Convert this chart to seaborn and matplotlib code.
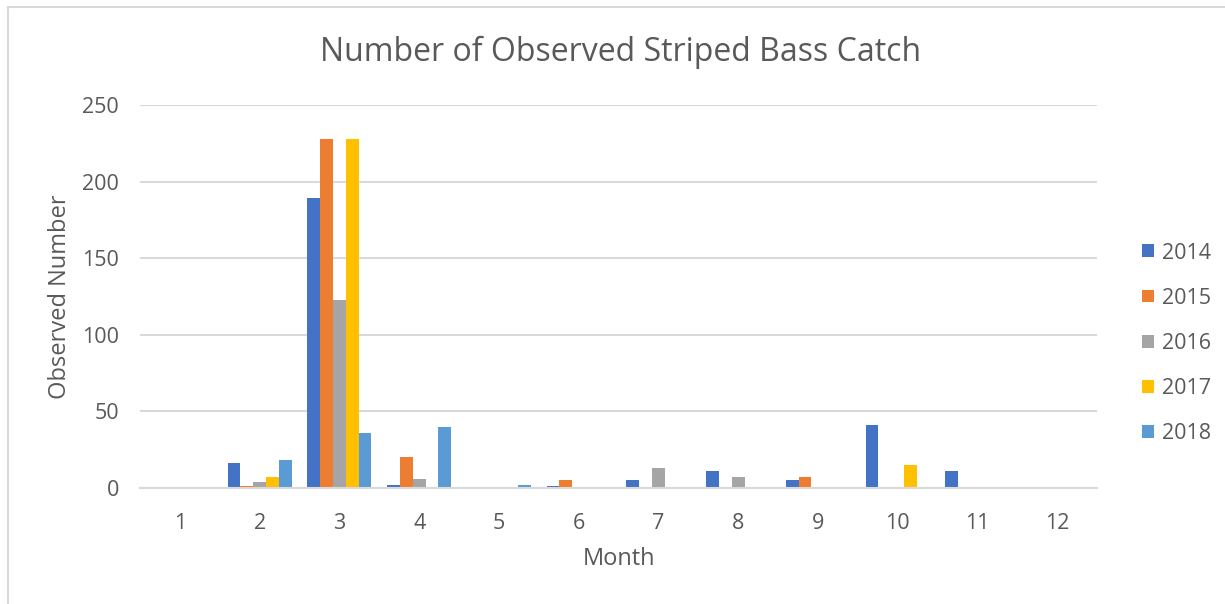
"""
Observed striped bass catch per month, 2014-2018 (Excel-style clustered bars).
"""

import pandas as pd
import matplotlib.pyplot as plt
import seaborn as sns
from matplotlib.lines import Line2D
from matplotlib.patches import Patch

# ------------------------------------------------------------------ #
# Data
# ------------------------------------------------------------------ #
months = ["1", "2", "3", "4", "5", "6", "7", "8", "9", "10", "11", "12"]
years = ["2014", "2015", "2016", "2017", "2018"]

catch_2014 = [0, 16, 189, 2, 0, 1, 5, 11, 5, 41, 11, 0]
catch_2015 = [0, 1, 228, 20, 0, 5, 0, 0, 7, 0, 0, 0]
catch_2016 = [0, 4, 123, 6, 0, 0, 13, 7, 0, 0, 0, 0]
catch_2017 = [0, 7, 228, 0, 0, 0, 0, 0, 0, 15, 0, 0]
catch_2018 = [0, 18, 36, 40, 2, 0, 0, 0, 0, 0, 0, 0]

colors = ["#4472C4", "#ED7D31", "#A5A5A5", "#FFC000", "#5B9BD5"]
text_color = "#595959"
grid_color = "#D9D9D9"

series = [catch_2014, catch_2015, catch_2016, catch_2017, catch_2018]
df = pd.DataFrame(
    [
        {"month": m, "year": y, "count": v}
        for y, vals in zip(years, series)
        for m, v in zip(months, vals)
    ]
)

# ------------------------------------------------------------------ #
# Figure
# ------------------------------------------------------------------ #
sns.set_theme(style="white")
plt.rcParams["font.family"] = ["Open Sans", "DejaVu Sans"]

W, H = 1225, 604
fig = plt.figure(figsize=(W / 100, H / 100), dpi=100)
ax = fig.add_axes([140 / W, 1 - 488 / H, 957 / W, 383 / H])

sns.barplot(
    data=df, x="month", y="count", hue="year",
    order=months, hue_order=years, palette=colors,
    width=0.8, saturation=1, legend=False, ax=ax,
    edgecolor="none", linewidth=0,
)

ax.set_xlim(-0.5, len(months) - 0.5)
ax.set_ylim(0, 250)
ax.set_yticks(range(0, 251, 50))
ax.yaxis.grid(True, color=grid_color, linewidth=1.5)
ax.set_axisbelow(True)
for side in ["top", "right", "left"]:
    ax.spines[side].set_visible(False)
ax.spines["bottom"].set_color(grid_color)
ax.spines["bottom"].set_linewidth(1.5)
ax.tick_params(axis="both", length=0, labelsize=15.5, colors=text_color)
ax.tick_params(axis="y", pad=15)
ax.tick_params(axis="x", pad=18)
ax.set_xlabel("")
ax.set_ylabel("")

# titles placed in figure pixels to match the reference layout
fig.text(621 / W, 1 - 52 / H, "Number of Observed Striped Bass Catch",
         fontsize=23, color=text_color, ha="center", va="center")
fig.text(619 / W, 1 - 559 / H, "Month",
         fontsize=17, color=text_color, ha="center", va="center")
fig.text(60 / W, 1 - 297 / H, "Observed Number", rotation=90,
         fontsize=17, color=text_color, ha="center", va="center")

handles = [Patch(facecolor=c, edgecolor="none") for c in colors]
ax.legend(
    handles, years, loc="center left", bbox_to_anchor=(1.027, 0.378),
    frameon=False, fontsize=15.5, labelcolor=text_color,
    handlelength=0.55, handleheight=0.55, handletextpad=0.35,
    labelspacing=1.12,
)

# light chart-area border (top and left edges visible in the reference)
fig.add_artist(Line2D([8 / W, 8 / W], [0, 1 - 7 / H],
                      transform=fig.transFigure, color=grid_color, linewidth=1.5))
fig.add_artist(Line2D([8 / W, 1], [1 - 7 / H, 1 - 7 / H],
                      transform=fig.transFigure, color=grid_color, linewidth=1.5))

fig.savefig("out.png", dpi=100)
